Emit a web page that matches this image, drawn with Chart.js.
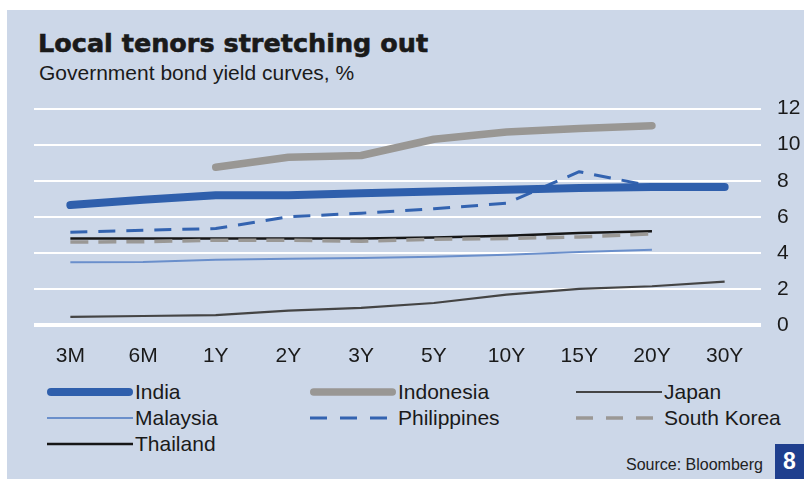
<!DOCTYPE html>
<html>
<head>
<meta charset="utf-8">
<script src="https://cdn.jsdelivr.net/npm/chart.js"></script>
<style>
  html, body { margin: 0; padding: 0; background: #fff; }
  body { width: 804px; height: 479px; position: relative; overflow: hidden;
         font-family: "Liberation Sans", Arial, Helvetica, sans-serif; color: #1a1a1a; }
  #panel { position: absolute; left: 7px; top: 10px; width: 797px; height: 469px; background: #ccd7e8; }
  #title { position: absolute; left: 38px; top: 28px; font: bold 25.5px "DejaVu Sans", sans-serif;
           line-height: 30px; white-space: nowrap; -webkit-text-stroke: 0.6px #1a1a1a; }
  #subtitle { position: absolute; left: 39px; top: 62px; font-size: 21px; line-height: 22px; white-space: nowrap; }
  #plot { position: absolute; left: 0; top: 80px; width: 804px; height: 292px; }
  #legend { position: absolute; left: 47px; top: 379px; display: grid;
            grid-template-columns: 263px 266px 200px; grid-auto-rows: 26px; font-size: 21px; }
  #legend .item { display: flex; align-items: center; white-space: nowrap; }
  #legend svg { width: 86px; height: 12px; margin-right: 2px; flex: none; }
  #source { position: absolute; left: 626px; top: 455px; font-size: 16px; line-height: 20px; color: #222; }
  #page { position: absolute; left: 775px; top: 444px; width: 29px; height: 35px; background: #1f3f8e;
          color: #fff; font-weight: bold; font-size: 23px; line-height: 35px; text-align: center; }
</style>
</head>
<body>
<div id="panel"></div>
<div id="title">Local tenors stretching out</div>
<div id="subtitle">Government bond yield curves, %</div>
<div id="plot"><canvas id="yieldChart"></canvas></div>
<div id="legend"></div>
<div id="source">Source: Bloomberg</div>
<div id="page">8</div>
<script>
// tenors along the x axis
const tenors = ['3M', '6M', '1Y', '2Y', '3Y', '5Y', '10Y', '15Y', '20Y', '30Y'];

// yields in %, null where a tenor is not issued
const india       = [6.65, 6.95, 7.2, 7.2, 7.3, 7.4, 7.5, 7.6, 7.65, 7.65];
const indonesia   = [null, null, 8.75, 9.3, 9.4, 10.3, 10.7, 10.9, 11.05, null];
const japan       = [0.45, 0.5, 0.55, 0.8, 0.95, 1.22, 1.68, 2.0, 2.15, 2.4];
const malaysia    = [3.48, 3.5, 3.62, 3.68, 3.72, 3.78, 3.9, 4.05, 4.17, null];
const philippines = [5.15, 5.25, 5.35, 6.0, 6.2, 6.45, 6.75, 8.5, 7.7, null];
const southKorea  = [4.6, 4.62, 4.7, 4.7, 4.65, 4.75, 4.8, 4.88, 5.05, null];
const thailand    = [4.8, 4.8, 4.8, 4.8, 4.8, 4.85, 4.95, 5.1, 5.2, null];

// y axis range
const yMin = 0, yMax = 12, yStep = 2;

Chart.defaults.font.family = '"Liberation Sans", Arial, Helvetica, sans-serif';
Chart.defaults.color = '#1a1a1a';

function series(label, data, color, width, dash) {
  return {
    label: label,
    data: data,
    borderColor: color,
    backgroundColor: color,
    borderWidth: width,
    borderDash: dash || [],
    borderCapStyle: width > 5 ? 'round' : 'butt',
    borderJoinStyle: 'round',
    pointRadius: 0,
    pointHoverRadius: 0,
    tension: 0,
    fill: false,
    spanGaps: false
  };
}

// legend in three columns, built from the datasets
const htmlLegend = {
  id: 'htmlLegend',
  afterUpdate(chart) {
    const box = document.getElementById('legend');
    box.innerHTML = '';
    chart.data.datasets.forEach(ds => {
      const item = document.createElement('div');
      item.className = 'item';
      const w = ds.borderWidth;
      const cap = ds.borderCapStyle === 'round' ? 'round' : 'butt';
      const x1 = cap === 'round' ? w / 2 : 0;
      const x2 = cap === 'round' ? 86 - w / 2 : 86;
      const dash = ds.borderDash.length ? ' stroke-dasharray="17 13"' : '';
      item.innerHTML =
        '<svg viewBox="0 0 86 12"><line x1="' + x1 + '" y1="6" x2="' + x2 + '" y2="6" stroke="' +
        ds.borderColor + '" stroke-width="' + w + '" stroke-linecap="' + cap + '"' + dash + '/></svg>' +
        '<span>' + ds.label + '</span>';
      box.appendChild(item);
    });
  }
};

new Chart(document.getElementById('yieldChart'), {
  type: 'line',
  data: {
    labels: tenors,
    datasets: [
      series('India', india, '#2f5fac', 8),
      series('Indonesia', indonesia, '#999794', 7.5),
      series('Japan', japan, '#444444', 2.2),
      series('Malaysia', malaysia, '#6a8fcb', 2),
      series('Philippines', philippines, '#3363b0', 3, [17, 11]),
      series('South Korea', southKorea, '#9a9895', 3.5, [18, 10]),
      series('Thailand', thailand, '#161616', 2.5)
    ]
  },
  options: {
    responsive: true,
    maintainAspectRatio: false,
    animation: false,
    layout: { padding: { left: 34, top: 24, right: 0, bottom: 0 } },
    plugins: {
      legend: { display: false },
      tooltip: { enabled: false }
    },
    elements: { line: { clip: false } },
    scales: {
      x: {
        offset: true,
        grid: { display: false, drawTicks: false },
        border: { display: false },
        ticks: { padding: 19, font: { size: 21 }, maxRotation: 0, autoSkip: false },
        afterFit(scale) { scale.height = 47; }
      },
      y: {
        position: 'right',
        min: yMin,
        max: yMax,
        ticks: { stepSize: yStep, padding: 16, font: { size: 21 } },
        grid: {
          color: '#ffffff',
          lineWidth: ctx => (ctx.tick && ctx.tick.value === 0 ? 4 : 2),
          drawTicks: false
        },
        border: { display: false },
        afterFit(scale) { scale.width = 43; }
      }
    }
  },
  plugins: [htmlLegend]
});
</script>
</body>
</html>
